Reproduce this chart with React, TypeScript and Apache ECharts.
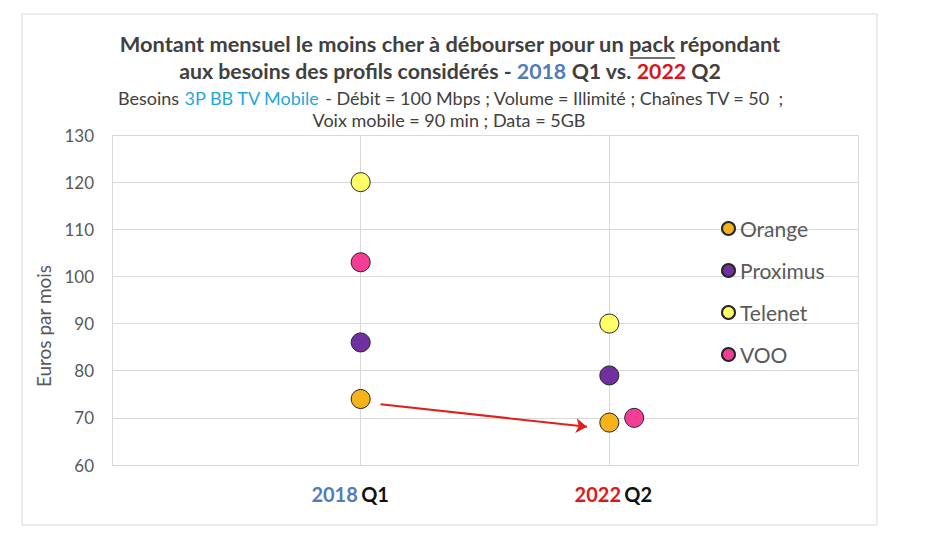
import React, { useEffect, useRef } from "react";
import * as echarts from "echarts";

const categories = ["2018 Q1", "2022 Q2"];
const operators = ["Orange", "Proximus", "Telenet", "VOO"];
const xPositions = [1, 2];
const vooXPositions = [1, 2.1];
const orangeValues = [74, 69];
const proximusValues = [86, 79];
const telenetValues = [120, 90];
const vooValues = [103, 70];
const yTicks = [60, 70, 80, 90, 100, 110, 120, 130];
const arrowFrom = [1.08, 72.9];
const arrowTo = [1.91, 68.1];

const titleLine1Before = "Montant mensuel le moins cher à débourser pour un ";
const titleLine1Under = "pack";
const titleLine1After = " répondant";

const colors = ["#F5B31B", "#7030A0", "#FFFF66", "#F43E96"];
const FONT = "Lato";
const TITLE_SIZE = 21.8;

function measure(text: string, font: string): number {
  const c = document.createElement("canvas").getContext("2d");
  if (!c) return text.length * 10;
  c.font = font;
  return c.measureText(text).width;
}

export default function App() {
  const ref = useRef<HTMLDivElement>(null);
  useEffect(() => {
    if (!ref.current) return;
    const chart = echarts.init(ref.current, undefined, { renderer: "svg" });
    const mk = (xs: number[], ys: number[]) => xs.map((x, i) => [x, ys[i]]);
    const seriesData = [
      mk(xPositions, orangeValues),
      mk(xPositions, proximusValues),
      mk(xPositions, telenetValues),
      mk(vooXPositions, vooValues),
    ];
    const series: any[] = operators.map((name, i) => ({
      name,
      type: "scatter",
      data: seriesData[i],
      symbol: "circle",
      symbolSize: 19,
      itemStyle: { color: colors[i], borderColor: "#262626", borderWidth: 1, opacity: 1 },
      z: 3,
    }));
    series.push({
      type: "scatter",
      data: [],
      silent: true,
      markLine: {
        silent: true,
        symbol: ["none", "arrow"],
        symbolSize: 11,
        label: { show: false },
        lineStyle: { color: "#E0201B", width: 2, type: "solid" },
        data: [[{ coord: arrowFrom }, { coord: arrowTo }]],
      },
    });

    const titleFont = `bold ${TITLE_SIZE}px ${FONT}`;
    const fullTitle = titleLine1Before + titleLine1Under + titleLine1After;
    const fullW = measure(fullTitle, titleFont);
    const beforeW = measure(titleLine1Before, titleFont);
    const underW = measure(titleLine1Under, titleFont);
    const titleCx = 450;
    const ux0 = titleCx - fullW / 2 + beforeW;

    chart.setOption({
      animation: false,
      backgroundColor: "#ffffff",
      grid: { left: 112, right: 71, top: 135, bottom: 80, containLabel: false },
      xAxis: {
        type: "value",
        min: 0,
        max: 3,
        interval: 1,
        axisLine: { show: true, lineStyle: { color: "#D9D9D9" } },
        axisTick: { show: false },
        splitLine: { show: true, lineStyle: { color: "#D9D9D9" } },
        axisLabel: {
          margin: 19,
          formatter: (v: number) => {
            const c = categories[v - 1];
            if (!c) return "";
            const [yr, q] = c.split(" ");
            if (v === 1) return `{b|${yr}} {k|${q}}{s1|}`;
            return `{s2|}{r|${yr}} {k|${q}}`;
          },
          rich: {
            b: { color: "#4F7CBE", fontSize: 20, fontWeight: "bold", fontFamily: FONT },
            r: { color: "#E0161B", fontSize: 20, fontWeight: "bold", fontFamily: FONT },
            k: { color: "#111111", fontSize: 20, fontWeight: "bold", fontFamily: FONT },
            s1: { width: 21, fontSize: 20 },
            s2: { width: 8, fontSize: 20 },
          },
        },
      },
      yAxis: {
        type: "value",
        min: yTicks[0],
        max: yTicks[yTicks.length - 1],
        interval: 10,
        axisLine: { show: true, lineStyle: { color: "#D9D9D9" } },
        axisTick: { show: false },
        splitLine: { show: true, lineStyle: { color: "#D9D9D9" } },
        axisLabel: { color: "#595959", fontSize: 17, margin: 18, fontFamily: FONT },
      },
      legend: {
        orient: "vertical",
        left: 716,
        top: 213,
        itemWidth: 13,
        itemHeight: 13,
        itemGap: 21,
        icon: "circle",
        data: operators,
        textStyle: { color: "#595959", fontSize: 21, lineHeight: 21, fontFamily: FONT },
      },
      graphic: [
        {
          type: "rect",
          shape: { x: 22, y: 14, width: 855, height: 511 },
          style: { fill: "none", stroke: "#D9D9D9", lineWidth: 1 },
          silent: true,
        },
        {
          type: "text",
          x: titleCx,
          y: 43,
          style: {
            text: fullTitle,
            fill: "#404040",
            font: titleFont,
            align: "center",
            verticalAlign: "middle",
          },
        },
        {
          type: "line",
          shape: { x1: ux0, y1: 58, x2: ux0 + underW, y2: 58 },
          style: { stroke: "#404040", lineWidth: 1.3 },
        },
        {
          type: "text",
          x: 450,
          y: 71,
          style: {
            text: "{t|aux besoins des profils considérés - }{b|2018}{t| Q1 vs. }{r|2022}{t| Q2}",
            align: "center",
            verticalAlign: "middle",
            rich: {
              t: { fill: "#404040", fontSize: 21.3, fontWeight: "bold", fontFamily: FONT },
              b: { fill: "#4F7CBE", fontSize: 21.3, fontWeight: "bold", fontFamily: FONT },
              r: { fill: "#D9151B", fontSize: 21.3, fontWeight: "bold", fontFamily: FONT },
            },
          },
        },
        {
          type: "text",
          x: 451,
          y: 98,
          style: {
            text: "{t|Besoins }{c|3P BB TV Mobile}{t| - Débit = 100 Mbps ; Volume = Illimité ; Chaînes TV = 50  ;}",
            align: "center",
            verticalAlign: "middle",
            rich: {
              t: { fill: "#404040", fontSize: 18, fontFamily: FONT },
              c: { fill: "#1FA7DA", fontSize: 18, fontFamily: FONT },
            },
          },
        },
        {
          type: "text",
          x: 449,
          y: 120,
          style: {
            text: "Voix mobile = 90 min ; Data = 5GB",
            fill: "#404040",
            font: `18px ${FONT}`,
            align: "center",
            verticalAlign: "middle",
          },
        },
        {
          type: "text",
          x: 43,
          y: 326,
          rotation: Math.PI / 2,
          style: {
            text: "Euros par mois",
            fill: "#595959",
            font: `19px ${FONT}`,
            align: "center",
            verticalAlign: "middle",
          },
        },
      ],
      series,
    });
    return () => chart.dispose();
  }, []);
  return (
    <div
      ref={ref}
      style={{ position: "fixed", left: 0, top: 0, width: 929, height: 545 }}
    />
  );
}
